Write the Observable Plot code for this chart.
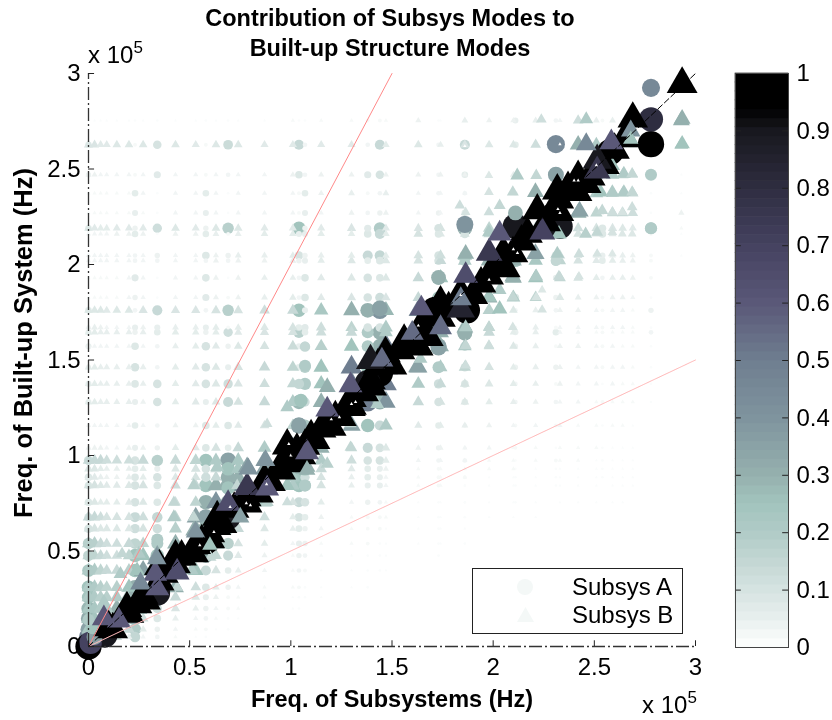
<!DOCTYPE html>
<html><head><meta charset="utf-8">
<script src="https://cdn.jsdelivr.net/npm/d3@7"></script>
<script src="https://cdn.jsdelivr.net/npm/@observablehq/plot@0.6"></script>
<style>
html,body{margin:0;padding:0;background:#fff}
body{font-family:"Liberation Sans",Arial,sans-serif;color:#000}
#wrap{position:relative;width:832px;height:720px;overflow:hidden;filter:blur(0.35px)}
#wrap svg{position:absolute;left:0;top:0;overflow:visible;background:transparent}
.ov{position:absolute;white-space:nowrap}
#title{left:0;width:780px;top:4px;text-align:center;font-weight:bold;font-size:23.5px;line-height:29.5px}
.mult{font-size:24px;line-height:24px}
.mult sup{font-size:17px;line-height:0;vertical-align:baseline;position:relative;top:-10px}
#legend{left:472px;top:568px;width:209px;height:64px;border:1px solid #222;background:#fff}
.leg{position:absolute;left:99px;font-size:24px}
.lm{position:absolute;background:#f4f8f7}
</style></head><body><div id="wrap"></div>
<script>
const axisTicks = [0, 0.5, 1, 1.5, 2, 2.5, 3];
const barTicks = [0, 0.1, 0.2, 0.3, 0.4, 0.5, 0.6, 0.7, 0.8, 0.9, 1];
const colorStops = [0, 0.05, 0.1, 0.2, 0.25, 0.3, 0.4, 0.5, 0.6, 0.7, 0.8, 0.9, 0.94, 1];
const colorHex = ["#ffffff","#e8efee","#d6e3e1","#b0cbc7","#a2c4bd","#95b0ae","#7f949e","#6f7e90","#5a5878","#454260","#2e2d40","#18181e","#000000","#000000"];
const rowsY = [2.754,2.627,2.47,2.373,2.27,2.19,2.16,2.047,2.02,1.93,1.827,1.76,1.67,1.645,1.572,1.462,1.375,1.28,1.157,1.04,.974,.93,.886,.843,.755,.677,.617,.539,.476,.398,.31,.258,.199,.147,.09,.05];
const colsB = [0,.03,.06,.09,.14,.2,.27,.43,.53,.63,.74,.87,1.01,1.15,1.3,1.47,1.63,1.74,1.86,1.98,2.1,2.21,2.33,2.42,2.51,2.59,2.64,2.69,2.93];
const colsA = [0,.23,.34,.58,.69,1.04,1.07,1.38,1.44,1.73,1.86,2.11,2.31,2.54,2.78];
const levelsB = [
[1,1,1,1,1,1,1,1,1,1,1,1,2,2,2,2,4,1,5,4,4,5,3,12,5,5,3,10,30],
[9,9,7,7,8,8,8,8,7,8,8,7,7,7,7,6,8,5,9,8,8,12,10,30,20,15,10,10,20],
[4,4,3,3,3,3,3,3,3,3,3,3,4,4,4,4,4,4,4,4,5,6,8,14,20,20,15,12,1],
[2,2,2,2,2,2,3,3,3,3,3,3,3,4,5,5,3,3,3,3,5,8,10,14,20,18,16,14,1],
[2,2,2,2,2,2,2,3,3,3,3,3,3,3,4,4,3,3,6,6,12,14,12,30,16,14,14,12,4],
[8,7,6,6,7,7,7,8,7,8,8,7,7,7,9,7,9,10,14,16,12,15,12,12,10,9,8,7,2],
[3,3,3,3,4,4,4,4,4,5,5,6,6,6,6,6,10,8,10,14,14,30,16,10,8,7,6,5,1],
[3,3,3,3,3,3,3,3,3,4,5,5,6,5,6,6,10,12,22,25,25,18,12,8,6,5,5,4,1],
[3,3,3,3,3,3,3,3,3,4,4,4,5,6,8,8,10,14,20,30,30,22,16,10,7,6,5,4,0],
[2,2,2,2,2,3,3,3,3,4,4,5,5,7,8,8,14,25,30,40,30,25,15,10,6,5,5,4,0],
[2,2,2,2,2,3,3,3,3,4,4,5,6,7,9,9,14,20,30,30,20,16,8,5,4,4,4,3,0],
[8,8,8,7,8,8,9,9,9,10,10,12,14,22,30,28,40,30,25,18,8,5,4,4,3,3,3,2,0],
[4,5,4,3,3,3,4,5,5,6,6,8,10,12,16,20,45,45,30,16,6,5,3,3,3,3,3,2,0],
[6,6,5,5,5,5,5,6,6,6,7,9,10,12,14,20,50,30,20,14,6,5,3,3,2,2,2,2,0],
[3,3,3,3,3,3,3,5,6,7,8,10,13,18,25,50,50,30,20,12,8,5,4,4,3,3,2,2,0],
[6,6,5,5,5,5,5,6,7,8,10,14,16,25,50,60,35,20,16,10,6,5,4,3,3,3,3,2,0],
[6,6,5,5,5,5,5,6,7,8,9,12,15,25,50,50,20,14,10,8,6,5,4,3,3,3,2,2,0],
[6,6,5,5,5,5,4,6,7,8,10,14,20,30,60,40,14,10,8,6,5,4,3,3,2,2,2,2,0],
[3,3,3,3,3,3,3,4,4,6,7,10,16,50,35,20,7,6,5,4,3,3,3,2,2,2,2,1,0],
[4,4,4,3,3,4,4,6,7,10,14,20,40,30,14,8,4,4,3,3,2,2,2,2,2,1,1,1,0],
[14,14,14,12,12,12,14,14,16,20,22,35,50,20,12,6,3,3,3,2,2,2,2,2,1,1,1,1,0],
[8,8,6,5,5,5,6,8,10,14,22,35,30,14,7,4,2,2,2,2,2,1,1,1,1,1,1,1,0],
[7,7,5,4,4,5,6,8,10,14,30,40,22,10,5,3,2,2,2,1,1,1,1,1,1,1,1,1,0],
[10,10,8,7,7,8,10,12,14,30,40,40,20,10,5,3,2,2,1,1,1,1,1,1,1,1,1,1,0],
[8,8,6,6,6,7,8,12,16,40,40,22,10,6,3,2,1,1,1,1,1,1,1,1,1,1,1,0,0],
[14,14,12,10,10,10,12,16,35,40,30,12,6,4,2,2,1,1,1,1,1,1],
[10,10,8,8,8,8,10,18,30,40,14,8,5,3,2,1,1,1,1],
[18,18,14,12,12,14,16,30,40,30,10,6,3,2,2,1,1,1],
[16,16,14,12,12,16,25,40,40,15,7,4,2,2,1,1],
[20,20,16,14,14,18,35,40,25,10,5,3,2,1,1,1],
[20,20,18,16,18,25,40,30,12,6,3,2,2,1,1],
[20,20,18,18,20,30,40,14,8,4,2,2,1,1],
[22,22,20,20,30,40,25,9,5,3,2,1,1],
[24,24,22,30,40,35,12,5,3,2,1],
[22,24,30,35,30,14,6,3,2,1],
[25,30,35,25,12,5,3,2,1]];
const levelsA = [
[1,1,1,1,1,1,1,2,2,1,1,5,3,2,0],
[6,2,10,2,13,14,3,3,14,3,14,6,6,4,0],
[4,2,7,2,3,8,3,7,10,3,6,3,5,3,0],
[1,6,1,6,1,2,6,2,3,3,3,3,3,2,1],
[1,5,1,5,1,2,5,3,4,4,6,4,5,3,1],
[6,4,12,4,18,25,4,7,20,10,30,8,8,8,20],
[1,6,1,6,2,5,5,8,14,8,10,14,12,8,2],
[2,3,4,8,4,10,4,14,15,10,15,20,10,5,2],
[1,3,3,3,3,4,5,6,8,10,16,22,14,6,2],
[1,7,1,8,1,3,8,10,8,25,15,10,5,3,2],
[1,4,1,7,2,3,8,10,12,22,10,8,4,2,1],
[6,3,14,3,18,25,5,30,40,50,25,3,3,2,4],
[3,5,5,5,2,6,7,10,10,25,15,2,2,2,1],
[5,4,6,4,12,18,6,20,30,20,30,5,6,2,3],
[5,8,3,10,4,5,12,20,30,35,12,4,2,2,1],
[4,10,3,10,5,6,18,25,30,20,10,4,4,2,1],
[5,8,10,10,12,15,20,30,35,12,8,3,2,1,1],
[5,5,10,5,14,28,12,50,30,10,6,3,3,2,1],
[2,6,3,8,8,35,20,25,14,6,3,2,2,1,0],
[2,5,4,8,6,25,25,14,10,4,2,2,1,1,0],
[12,10,18,25,35,30,15,10,10,3,3,1,2,1,0],
[4,6,5,10,25,30,20,6,5,2,1,1,1,1,0],
[8,8,10,12,30,25,12,6,5,2,2,1,1,1,0],
[8,10,8,25,30,25,20,5,5,2,1,1,1,0,0],
[8,10,8,30,30,14,10,4,3,1,1,1,0,0,0],
[10,14,15,35,35,10,6,2,2,1,1],
[10,12,12,30,20,6,4,2,2,1,0],
[18,16,20,30,18,5,4,2,1,1,1],
[16,25,25,30,14,4,3,1,1,1],
[22,25,20,14,6,3,2,1,1],
[25,30,25,8,4,2,1,1],
[24,30,15,5,2,1,1],
[28,30,12,4,2,1],
[32,25,8,3,1],
[35,20,4,2,1],
[50,15,3,1]];
// strong modes along the diagonal: x, y, contribution
const diagAx = [0,.01,.02,.03,0,.08,.34,.58,.58,.69,.69,.69,1.04,1.04,1.05,1.07,1.07,1.07,1.38,1.44,1.44,1.07,.34,1.73,1.73,1.73,1.71,1.87,1.86,1.86,2.11,2.11,2.31,2.31,2.33,2.31,2.58,2.78,2.78,2.78,2.78,2.78];
const diagAy = [0,.02,.1,.05,.14,.06,.28,.55,.62,.68,.75,.83,1.0,1.157,1.288,.93,.843,1.47,1.38,1.43,1.77,1.57,.56,1.565,1.76,1.932,1.76,1.76,1.64,2.21,2.2,2.27,2.47,2.63,2.2,2.02,2.59,2.925,2.76,2.63,2.47,2.19];
const diagAc = [.95,.7,.25,.35,.2,.9,.9,.95,.3,.9,.3,.25,.95,.35,.25,.25,.2,.2,.9,.95,.35,.15,.2,.35,.5,.3,.98,.95,.3,.4,.9,.3,.35,.45,.9,.15,.95,.45,.8,.95,.2,.2];
const backBx = [.1,.12,.2,.24,.27,.35,.37,.43,.46,.53,.56,.6,.63,.66,.72,.78,.84,.87,.9,.95,.97,1.01,1.03,1.07,1.1,1.15,1.2,1.22,1.3,1.3,1.36,1.4,1.43,1.5,1.56,1.63,1.68,1.7,1.74,1.78,1.9,1.94,2.02,2.06,2.14,2.17,2.26,2.3,2.37,2.46,2.48,2.55,2.6,2.65];
const backBy = [.1,.09,.17,.22,.27,.34,.38,.43,.47,.53,.55,.56,.63,.64,.72,.78,.8,.87,.86,.92,.98,.97,1.03,1.05,1.1,1.14,1.15,1.2,1.3,1.26,1.33,1.36,1.47,1.47,1.6,1.57,1.62,1.74,1.72,1.77,1.84,1.9,2.0,1.98,2.12,2.16,2.22,2.28,2.4,2.42,2.46,2.52,2.6,2.66];
// mid-tone modes flanking the band
const flankBx = [2.46,2.238,2.934,2.934,2.589,2.646,2.687,2.646,2.687,2.589,2.53,2.539,2.589,2.638,2.687,2.427,2.514,2.457,2.589,2.638,2.687,2.325,2.209,2.317,2.424,2.514,2.589,2.097,2.213,2.325,2.424,2.032,2.242,1.979,2.097,2.213,2.032,2.242,1.864,1.979,2.097,1.864,1.979,1.641,1.625,1.864,1.864,1.979,2.032,1.979,1.835,1.864,2.209,2.213,2.097,1.979,2.119,1.979,1.18,.982,1.08,1.18,1.295,1.295,1.427,.883,.883,.982,.982,.784,.636,.735,.52,.422,.52,.422,.52,.34,.249,.166,.24,.158,.438,.51,.603,.34,.249,.076,.19];
const flankBy = [2.76,2.76,2.763,2.632,2.518,2.475,2.475,2.379,2.379,2.379,2.379,2.283,2.274,2.274,2.3,2.279,2.169,2.16,2.169,2.16,2.16,2.16,2.056,2.056,2.056,2.056,2.056,1.937,1.937,1.937,1.937,1.867,1.867,1.829,1.829,1.829,1.767,1.763,1.672,1.672,1.672,1.576,1.576,1.506,1.463,1.471,2.056,2.169,2.309,2.274,2.309,2.274,2.379,2.466,2.379,2.379,2.466,2.466,1.358,1.253,.94,.956,1.043,1.166,1.27,1.166,.756,.756,.843,.94,.94,.843,.843,.755,.677,.677,.607,.476,.486,.486,.398,.38,.31,.399,.467,.4,.197,.233,.26];
const flankBc = [.2,.12,.3,.25,.25,.2,.15,.2,.15,.2,.25,.15,.12,.1,.12,.35,.15,.18,.1,.08,.08,.25,.35,.2,.12,.1,.08,.3,.2,.14,.1,.2,.08,.25,.15,.1,.25,.1,.2,.15,.1,.15,.12,.2,.35,.12,.3,.2,.15,.12,.12,.1,.3,.15,.15,.1,.2,.08,.3,.2,.3,.18,.15,.15,.2,.12,.18,.12,.25,.35,.2,.15,.18,.15,.15,.2,.3,.35,.2,.15,.25,.2,.15,.2,.15,.45,.3,.2,.18];
const diagBx = [.076,.15,.19,.282,.257,.34,.33,.438,.337,.52,.43,.35,.6,.529,.6,.636,.69,.75,.784,.883,.784,.79,.875,.998,.982,1.0,1.05,1.08,1.08,1.12,1.18,1.18,1.25,1.295,1.295,1.394,1.394,1.468,1.45,1.54,1.64,1.625,1.6,1.84,1.84,1.74,1.645,1.74,1.84,1.864,1.978,2.098,2.05,1.98,2.032,2.243,2.218,2.325,2.325,2.415,2.317,2.42,2.514,2.514,2.584,2.46,2.69,2.68,2.68,2.934];
const diagBy = [.147,.136,.2,.24,.33,.304,.38,.389,.46,.487,.47,.42,.592,.6,.53,.677,.748,.677,.748,.827,.834,.93,.974,.958,1.052,.99,1.0,1.017,.925,1.08,1.167,1.24,1.2,1.253,1.367,1.393,1.497,1.534,1.5,1.55,1.672,1.576,1.64,1.848,1.765,1.8,1.77,1.67,1.82,1.942,1.942,2.058,2.06,2.06,2.162,2.17,2.283,2.274,2.34,2.378,2.387,2.457,2.545,2.49,2.64,2.63,2.763,2.7,2.655,2.945];
const diagBc = [.6,.6,.98,.98,.45,.6,.6,.65,.4,.98,.98,.98,.98,.4,.25,.95,.65,.35,.98,.6,.75,.4,.4,.98,.98,.98,.98,.6,.3,.98,.98,.6,.98,.98,.6,.98,.9,.98,.55,.98,.98,.95,.55,.98,.85,.98,.6,.55,.5,.65,.98,.98,.98,.75,.6,.7,.95,.98,.98,.98,.98,.98,.9,.75,.6,.45,.98,.4,.25,1];
// tiny near-white modes lying on top of the dark band
const tinyX = [.55,.62,.7,.78,.8,.88,.99,1.0,1.2,1.24,1.3,1.32,1.63,1.84,1.98,2.1,2.12,2.42,2.4,2.33,2.32,2.51,1.86,2.33];
const tinyY = [.53,.6,.73,.75,.74,.85,1.06,1.0,1.19,1.2,1.27,1.28,1.68,1.84,1.92,2.08,2.06,2.44,2.44,2.27,2.29,2.52,2.62,2.63];

const table = (cols, levels) => rowsY.flatMap((y, i) => cols.map((x, j) => ({x, y, c: (levels[i][j] || 0) / 100}))).filter(d => d.c > 0);
const list = (xs, ys, cs) => xs.map((x, i) => ({x, y: ys[i], c: cs ? cs[i] : .012}));
const bgA = table(colsA, levelsA), bgB = table(colsB, levelsB);
const strongA = list(diagAx, diagAy, diagAc), strongB = list(diagBx, diagBy, diagBc), tiny = list(tinyX, tinyY);
const backB = backBx.map((x, i) => ({x, y: backBy[i], c: .98}));
const flankB = list(flankBx, flankBy, flankBc);
const color = {type: "linear", domain: colorStops, range: colorHex};
const triR = d => d.c * 0.72;
const font = "'Liberation Sans',Arial,sans-serif";

const main = Plot.plot({
  width: 832, height: 720, marginLeft: 88, marginRight: 137, marginTop: 73, marginBottom: 74,
  style: {background: "transparent", fontFamily: font},
  x: {domain: [0, 3]}, y: {domain: [0, 3]},
  r: {type: "sqrt", domain: [0, 1], range: [0, 13.5]},
  color,
  marks: [
    Plot.dot(bgA, {x: "x", y: "y", r: "c", fill: "c", symbol: "circle"}),
    Plot.dot(bgB, {x: "x", y: "y", r: triR, fill: "c", symbol: "triangle"}),
    Plot.dot(strongA, {x: "x", y: "y", r: "c", fill: "c", symbol: "circle"}),
    Plot.dot(flankB, {x: "x", y: "y", r: triR, fill: "c", symbol: "triangle"}),
    Plot.dot(backB, {x: "x", y: "y", r: triR, fill: "c", symbol: "triangle"}),
    Plot.dot(strongB, {x: "x", y: "y", r: triR, fill: "c", symbol: "triangle"}),
    Plot.dot(tiny, {x: "x", y: "y", r: triR, fill: "#fff", symbol: "triangle"}),
    Plot.line([[0, 0], [1.5, 3]], {x: "0", y: "1", stroke: "#f88", strokeWidth: 1}),
    Plot.line([[0, 0], [3, 1.5]], {x: "0", y: "1", stroke: "#fbb", strokeWidth: 1, strokeDasharray: "1.5,0.5"}),
    Plot.line([[0, 0], [3, 3]], {x: "0", y: "1", stroke: "#000", strokeWidth: 1, strokeDasharray: "6,3"}),
    Plot.ruleX([0], {y1: 0, y2: 3, stroke: "#333", strokeWidth: 1.3, strokeDasharray: "13,3,2,3"}),
    Plot.ruleY([0], {x1: 0, x2: 3, stroke: "#333", strokeWidth: 1.3, strokeDasharray: "13,3,2,3"}),
    Plot.ruleX(axisTicks, {y1: 0, y2: .03, stroke: "#222"}),
    Plot.ruleY(axisTicks, {x1: 0, x2: .03, stroke: "#222"}),
    Plot.axisX({ticks: axisTicks, tickFormat: d => String(d), tickSize: 0, tickPadding: 11, fontSize: 24, label: null}),
    Plot.axisY({ticks: axisTicks, tickFormat: d => String(d), tickSize: 0, tickPadding: 8, fontSize: 24, label: null}),
    Plot.axisX({ticks: [], label: "Freq. of Subsystems (Hz)", labelAnchor: "center", labelArrow: "none", labelOffset: 60, fontSize: 23.5, fontWeight: "bold"}),
    Plot.text(["Freq. of Built-up System (Hz)"], {frameAnchor: "left", rotate: -90, dx: -65, dy: -17, fontSize: 25.5, fontWeight: "bold", textAnchor: "middle"})
  ]
});
const steps = d3.range(64);
const bar = Plot.plot({
  width: 832, height: 720, marginLeft: 735, marginRight: 44, marginTop: 73, marginBottom: 73,
  style: {background: "transparent", fontFamily: font},
  x: {domain: [0, 1], axis: null}, y: {domain: [0, 1], axis: null}, color,
  marks: [
    Plot.rect(steps, {x1: 0, x2: 1, y1: d => d / 64, y2: d => (d + 1) / 64, fill: d => (d + .5) / 64, inset: -0.3}),
    Plot.ruleY(barTicks, {x1: 0, x2: .11, stroke: "#222"}),
    Plot.ruleY(barTicks, {x1: .89, x2: 1, stroke: "#222"}),
    Plot.frame({stroke: "#444"}),
    Plot.axisY({anchor: "right", ticks: barTicks, tickFormat: d => String(d), tickSize: 0, tickPadding: 8, fontSize: 24, label: null})
  ]
});
const wrap = document.getElementById("wrap");
wrap.append(main, bar);
wrap.insertAdjacentHTML("beforeend", `
<div id="title" class="ov">Contribution of Subsys Modes to<br>Built-up Structure Modes</div>
<div class="ov mult" style="left:88px;top:43px">x 10<sup>5</sup></div>
<div class="ov mult" style="left:642px;top:693px">x 10<sup>5</sup></div>
<div id="legend" class="ov">
  <div class="lm" style="left:44px;top:10px;width:16px;height:16px;border-radius:50%"></div>
  <div class="lm" style="left:44px;top:38px;width:17px;height:15px;clip-path:polygon(50% 0,100% 100%,0 100%)"></div>
  <div class="leg" style="top:4px">Subsys A</div>
  <div class="leg" style="top:32px">Subsys B</div>
</div>`);
</script></body></html>
